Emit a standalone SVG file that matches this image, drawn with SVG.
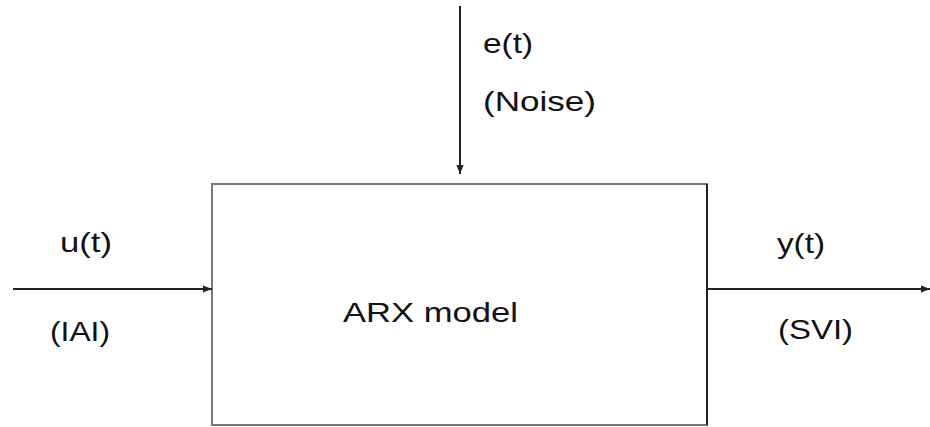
<svg xmlns="http://www.w3.org/2000/svg" width="930" height="427" viewBox="0 0 930 427">
<defs>
<style>
text{font-family:"Liberation Sans",Arial,sans-serif;font-size:28px;fill:#111}
.c{stroke:#222;stroke-width:2;fill:none}
</style>
<marker id="ah" viewBox="0 0 10 10" refX="10" refY="5" markerWidth="5" markerHeight="5" orient="auto" markerUnits="userSpaceOnUse">
<path d="M0,0 L10,5 L0,10 z" fill="#222"/>
</marker>
<marker id="ah2" viewBox="0 0 10 10" refX="10" refY="5" markerWidth="9" markerHeight="9" orient="auto" markerUnits="userSpaceOnUse">
<path d="M0,1 L10,5 L0,9 z" fill="#222"/>
</marker>
</defs>
<rect width="930" height="427" fill="#fff"/>
<g id="arx">
<rect x="212" y="184" width="495" height="241" fill="#fff" stroke="#777" stroke-width="2"/>
<line x1="707" y1="184" x2="707" y2="425" stroke="#222" stroke-width="2"/>
<text x="343" y="322" textLength="175" lengthAdjust="spacingAndGlyphs">ARX model</text>
</g>
<g id="connectors">
<line class="c" x1="460" y1="6" x2="460" y2="174" stroke-width="1.3" stroke="#444" marker-end="url(#ah2)"/>
<line class="c" x1="13" y1="289" x2="212" y2="289" marker-end="url(#ah2)"/>
<line class="c" x1="707" y1="289" x2="930" y2="289" marker-end="url(#ah2)"/>
</g>
<g id="labels">
<text x="483" y="53" textLength="50" lengthAdjust="spacingAndGlyphs">e(t)</text>
<text x="483" y="111" textLength="113" lengthAdjust="spacingAndGlyphs">(Noise)</text>
<text x="60" y="252" textLength="52" lengthAdjust="spacingAndGlyphs">u(t)</text>
<text x="50" y="341" textLength="60" lengthAdjust="spacingAndGlyphs">(IAI)</text>
<text x="777" y="253" textLength="48" lengthAdjust="spacingAndGlyphs">y(t)</text>
<text x="778" y="339" textLength="75" lengthAdjust="spacingAndGlyphs">(SVI)</text>
</g>
</svg>
